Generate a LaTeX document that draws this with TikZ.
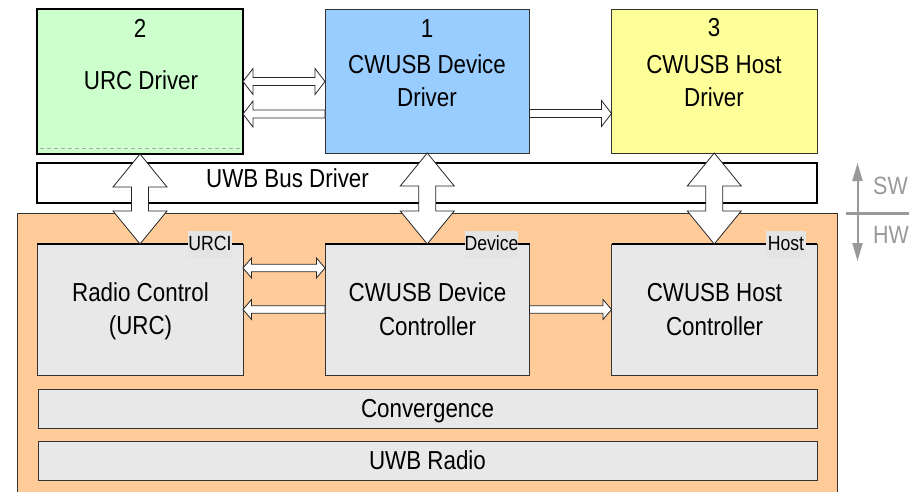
\documentclass[tikz,border=0pt]{standalone}
\usepackage{fontspec}
\setmainfont[FakeStretch=0.86]{Liberation Sans}
\usetikzlibrary{calc,arrows.meta}
\definecolor{grn}{HTML}{CCFFCC}
\definecolor{blu}{HTML}{99CCFF}
\definecolor{yel}{HTML}{FFFF99}
\definecolor{org}{HTML}{FFCC99}
\definecolor{lgray}{HTML}{E8E8E8}
\definecolor{tagbg}{HTML}{E4E4E4}
\definecolor{swgray}{HTML}{999999}
\definecolor{dashgray}{HTML}{AAAAAA}
\newcommand\bigfont{\fontsize{26}{31}\selectfont}
\newcommand\smallfont{\fontsize{20.5}{24}\selectfont}
% vertical hollow double arrow between #1.south and #2.north
\newcommand\vdarr[2]{%
  \draw[hollow] let \p1=(#1.south), \p2=(#2.north) in
    (\x1,\y1) -- (\x1+27pt,\y1-33pt) -- (\x1+8.5pt,\y1-33pt) -- (\x1+8.5pt,\y2+33pt)
    -- (\x1+27pt,\y2+33pt) -- (\x1,\y2) -- (\x1-27pt,\y2+33pt) -- (\x1-8.5pt,\y2+33pt)
    -- (\x1-8.5pt,\y1-33pt) -- (\x1-27pt,\y1-33pt) -- cycle;}
% horizontal hollow double arrow: #1 head half width, #2 shaft half width, #3 head length, #4 left, #5 right
\newcommand\hdarr[5]{%
  \draw[hollow] let \p1=(#4), \p2=(#5) in
    (\x1,\y1) -- (\x1+#3,\y1+#1) -- (\x1+#3,\y1+#2) -- (\x2-#3,\y1+#2) -- (\x2-#3,\y1+#1)
    -- (\x2,\y1) -- (\x2-#3,\y1-#1) -- (\x2-#3,\y1-#2) -- (\x1+#3,\y1-#2) -- (\x1+#3,\y1-#1) -- cycle;}
% left-pointing hollow arrow: tip at #4, tail at #5
\newcommand\lsarr[5]{%
  \draw[hollow] let \p1=(#4), \p2=(#5) in
    (\x1,\y1) -- (\x1+#3,\y1+#1) -- (\x1+#3,\y1+#2) -- (\x2,\y1+#2) -- (\x2,\y1-#2)
    -- (\x1+#3,\y1-#2) -- (\x1+#3,\y1-#1) -- cycle;}
% right-pointing hollow arrow: tail at #4, tip at #5
\newcommand\rsarr[5]{%
  \draw[hollow] let \p1=(#4), \p2=(#5) in
    (\x1,\y2+#2) -- (\x2-#3,\y2+#2) -- (\x2-#3,\y2+#1) -- (\x2,\y2) -- (\x2-#3,\y2-#1)
    -- (\x2-#3,\y2-#2) -- (\x1,\y2-#2) -- cycle;}
\tikzset{
  box/.style={draw=black!80, line width=0.8pt, inner sep=0pt, outer sep=0pt},
  thickbox/.style={draw=black, line width=2.6pt, inner sep=0pt, outer sep=0pt},
  hollow/.style={fill=white, draw=black!85, line width=0.8pt, line join=miter},
  txt/.style={font=\bigfont, anchor=base, inner sep=0pt},
  tag/.style={fill=tagbg, font=\smallfont, inner sep=0pt, text height=19pt, text depth=8pt},
  topline/.style={draw=black, line width=2.5pt},
  swline/.style={draw=swgray, line width=2pt},
  swtxt/.style={text=swgray, font=\fontsize{25}{30}\selectfont, anchor=base west, inner sep=0pt},
}
\begin{document}
\begin{tikzpicture}[x=1pt,y=-1pt]
\useasboundingbox (0,0) rectangle (918,491);
\clip (0,0) rectangle (918,491);
% hardware area
\node[box, fill=org, minimum width=820, minimum height=307] (hw) at (427,366.5) {};
% driver boxes
\node[thickbox, fill=grn, minimum width=206, minimum height=145] (urcdrv) at (140,81.5) {};
\draw[dashed, dashgray, line width=0.8pt, dash pattern=on 4pt off 3pt] ($(urcdrv.south west)+(3,-6)$) coordinate (dsa) -- ($(urcdrv.south east)+(0,-6)$) coordinate (dsb);
\node[box, fill=blu, minimum width=204.5, minimum height=144] (devdrv) at (427.25,81) {};
\node[box, fill=yel, minimum width=205.5, minimum height=144] (hostdrv) at (714.25,81) {};
\node[thickbox, fill=white, minimum width=780, minimum height=40] (busdrv) at (427,183) {};
% controller boxes
\node[box, fill=lgray, minimum width=206, minimum height=131] (radio) at (140,309.5) {};
\node[box, fill=lgray, minimum width=204.5, minimum height=131] (devctl) at (427.25,309.5) {};
\node[box, fill=lgray, minimum width=205.5, minimum height=131] (hostctl) at (714.25,309.5) {};
\draw[topline] (radio.north west) -- (radio.north east);
\draw[topline] (devctl.north west) -- (devctl.north east);
\draw[topline] (hostctl.north west) -- (hostctl.north east);
\node[tag, minimum width=42] (urci) at (210,244.5) {URCI};
\node[tag, minimum width=53] (devtag) at (491.5,244.5) {Device};
\node[tag, minimum width=40] (hosttag) at (786,244.5) {Host};
% layers
\node[box, fill=lgray, minimum width=779, minimum height=39] (conv) at (427.5,408.5) {};
\node[box, fill=lgray, minimum width=779, minimum height=39] (uwbr) at (427.5,460.5) {};
% texts
\node[txt] (n2) at (140,37) {2};
\node[txt] (urcdrvt) at (141,89) {URC Driver};
\node[txt] (n1) at (427,37) {1};
\node[txt] (devdrvt1) at (427,73) {CWUSB Device};
\node[txt] (devdrvt2) at (427,106) {Driver};
\node[txt] (n3) at (714,36) {3};
\node[txt] (hostdrvt1) at (714,73) {CWUSB Host};
\node[txt] (hostdrvt2) at (714,106) {Driver};
\node[txt] (busdrvt) at (287.5,187.5) {UWB Bus Driver};
\node[txt] (radiot1) at (140.5,301) {Radio Control};
\node[txt] (radiot2) at (140.5,334) {(URC)};
\node[txt] (devctlt1) at (427.5,301) {CWUSB Device};
\node[txt] (devctlt2) at (427.5,335) {Controller};
\node[txt] (hostctlt1) at (714.5,301) {CWUSB Host};
\node[txt] (hostctlt2) at (714.5,335) {Controller};
\node[txt] (convt) at (427.5,417) {Convergence};
\node[txt] (uwbrt) at (427.5,469) {UWB Radio};
% horizontal arrows between drivers
\hdarr{13pt}{4pt}{10pt}{urcdrv.east}{devdrv.west}
\lsarr{13pt}{4pt}{10pt}{$(urcdrv.east)+(0,32.5)$}{$(devdrv.west)+(0,32.5)$}
\rsarr{13pt}{4pt}{10pt}{$(devdrv.east)+(0,32.5)$}{$(hostdrv.west)+(0,32.5)$}
% horizontal arrows between controllers
\hdarr{10pt}{3.8pt}{8.5pt}{$(radio.east)+(0,-41.5)$}{$(devctl.west)+(0,-41.5)$}
\lsarr{10pt}{3.8pt}{8.5pt}{radio.east}{devctl.west}
\rsarr{10pt}{3.8pt}{8.5pt}{devctl.east}{hostctl.west}
% vertical double arrows
\vdarr{urcdrv}{radio}
\vdarr{devdrv}{devctl}
\vdarr{hostdrv}{hostctl}
% SW / HW marker
\coordinate (swc) at (857.5,213);
\coordinate (swtop) at (857.5,163);
\coordinate (swbot) at (857.5,261);
\coordinate (swl) at (846,213);
\coordinate (swr) at (909,213);
\draw[swline, line width=3pt] (swl) -- (swr);
\draw[swline, -{Triangle[width=10pt,length=18pt]}] (swc) -- (swtop);
\draw[swline, -{Triangle[width=10pt,length=18pt]}] (swc) -- (swbot);
\node[swtxt] (swt) at (873,194) {SW};
\node[swtxt] (hwt) at (873,243) {HW};
\end{tikzpicture}
\end{document}
